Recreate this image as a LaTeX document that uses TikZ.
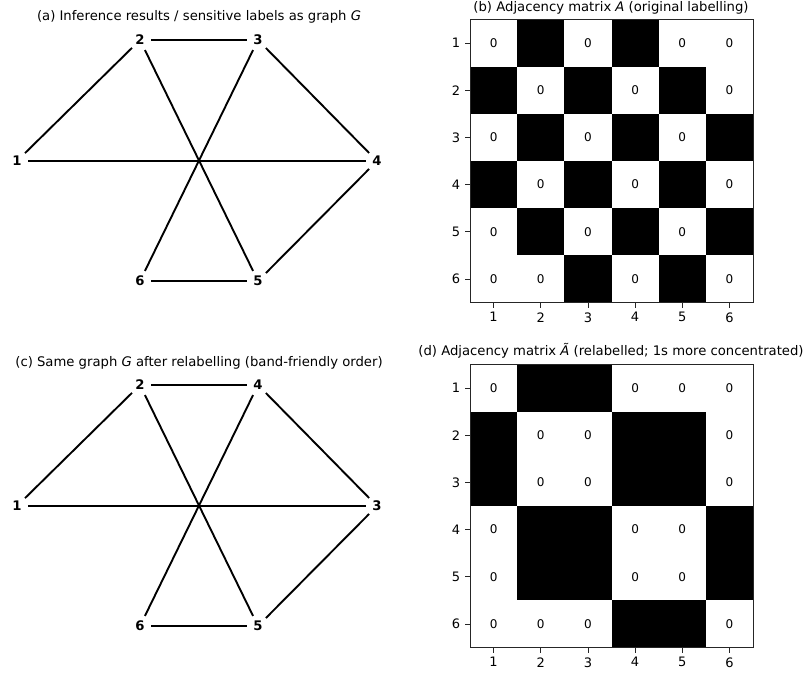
\documentclass[tikz,border=0pt]{standalone}
\usepackage{fontspec}
\setmainfont{DejaVu Sans}
\usetikzlibrary{positioning}

% one adjacency grid: #1 = name prefix, #2 = rows
\newcommand{\adjgrid}[2]{%
  \foreach \rowvals [count=\i] in {#2} {
    \foreach \v [count=\j] in \rowvals {
      \ifnum\v=1
        \fill[one] ({(\j-1)*47.17},{(\i-1)*47.17}) rectangle ++(47.17,47.17);
      \else
        \node[zero] (#1-\i-\j) at ({(\j-0.5)*47.17},{(\i-0.5)*47.17}) {0};
      \fi
    }
  }
  \draw[frame] (0,0) rectangle (283,283);
  \foreach \k in {1,...,6} {
    \draw[tick] (0,{(\k-0.5)*47.17}) -- ++(-5,0)
      node[ticklab, left=4.5pt] (#1y\k) {\k};
    \draw[tick] ({(\k-0.5)*47.17},283) -- ++(0,5)
      node[ticklab, below=4.5pt] (#1x\k) {\k};
  }
}

\begin{document}
\begin{tikzpicture}[x=1pt, y=-1pt, font=\fontsize{11}{13}\selectfont,
    vert/.style={circle, minimum size=22pt, inner sep=0pt,
                 font=\fontsize{13.2}{15}\selectfont\bfseries},
    edge/.style={line width=1.9pt},
    title/.style={font=\fontsize{13.2}{15}\selectfont, inner sep=0pt},
    one/.style={fill=black},
    zero/.style={inner sep=0pt, font=\fontsize{12}{14}\selectfont},
    frame/.style={draw=black!85, line width=0.9pt},
    tick/.style={draw=black!85, line width=0.8pt},
    ticklab/.style={inner sep=0pt, font=\fontsize{13}{15}\selectfont}]
  \useasboundingbox (0,0) rectangle (808,676);

  % (a) graph G
  \node[title] (ta) at (199,17) {(a) Inference results / sensitive labels as graph \textit{G}};
  \node[vert] (a1) at (17,161)  {1};
  \node[vert] (a2) at (140,40)  {2};
  \node[vert] (a3) at (258,40)  {3};
  \node[vert] (a4) at (377,161) {4};
  \node[vert] (a5) at (258,281) {5};
  \node[vert] (a6) at (140,281) {6};
  \draw[edge] (a1) -- (a2);
  \draw[edge] (a1) -- (a4);
  \draw[edge] (a2) -- (a3);
  \draw[edge] (a2) -- (a5);
  \draw[edge] (a3) -- (a4);
  \draw[edge] (a3) -- (a6);
  \draw[edge] (a4) -- (a5);
  \draw[edge] (a5) -- (a6);

  % (b) matrix A
  \node[title] (tb) at (611,8) {(b) Adjacency matrix \textit{A} (original labelling)};
  \begin{scope}[shift={(470,19.5)}]
    \adjgrid{b}{{0,1,0,1,0,0},{1,0,1,0,1,0},{0,1,0,1,0,1},
                {1,0,1,0,1,0},{0,1,0,1,0,1},{0,0,1,0,1,0}}
  \end{scope}

  % (c) relabelled graph
  \node[title] (tc) at (199,363) {(c) Same graph \textit{G} after relabelling (band-friendly order)};
  \node[vert] (c1) at (17,506)  {1};
  \node[vert] (c2) at (140,385) {2};
  \node[vert] (c4) at (258,385) {4};
  \node[vert] (c3) at (377,506) {3};
  \node[vert] (c5) at (258,626) {5};
  \node[vert] (c6) at (140,626) {6};
  \draw[edge] (c1) -- (c2);
  \draw[edge] (c1) -- (c3);
  \draw[edge] (c2) -- (c4);
  \draw[edge] (c2) -- (c5);
  \draw[edge] (c4) -- (c3);
  \draw[edge] (c4) -- (c6);
  \draw[edge] (c3) -- (c5);
  \draw[edge] (c5) -- (c6);

  % (d) relabelled matrix
  \node[title] (td) at (611,351) {(d) Adjacency matrix \textit{Ã} (relabelled; 1s more concentrated)};
  \begin{scope}[shift={(470,364.5)}]
    \adjgrid{d}{{0,1,1,0,0,0},{1,0,0,1,1,0},{1,0,0,1,1,0},
                {0,1,1,0,0,1},{0,1,1,0,0,1},{0,0,0,1,1,0}}
  \end{scope}
\end{tikzpicture}
\end{document}
